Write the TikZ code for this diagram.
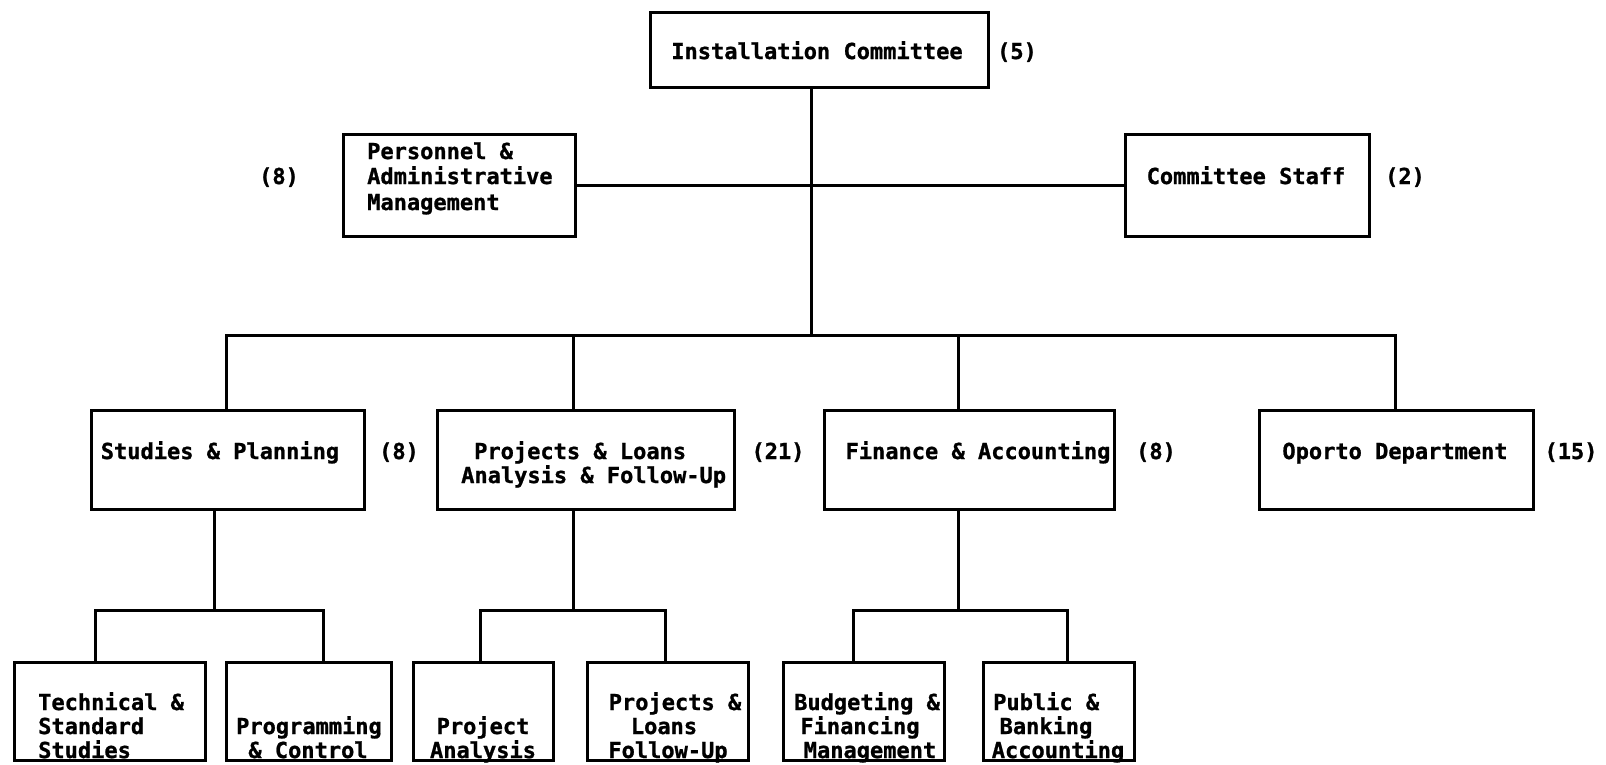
\documentclass[tikz,border=0pt]{standalone}
\usepackage{fontspec}
\newfontfamily\twfont{DejaVu Sans Mono}[BoldFeatures={FakeBold=1}]
\begin{document}
\begin{tikzpicture}[x=1pt,y=-1pt,
  orgbox/.style={draw, line width=3pt, inner sep=0pt},
  lbl/.style={font=\twfont\bfseries\fontsize{22}{26}\selectfont, inner sep=0pt},
  wire/.style={line width=3pt, line cap=rect}]
\useasboundingbox (0,0) rectangle (1606,764);
\fill[white] (0,0) rectangle (1606,764);
% boxes
\node[orgbox, minimum width=338pt, minimum height=75pt] (ic) at (819,49.5) {};
\node[orgbox, minimum width=232pt, minimum height=102pt] (pam) at (459,185) {};
\node[orgbox, minimum width=244pt, minimum height=102pt] (cs) at (1247,185) {};
\node[orgbox, minimum width=273pt, minimum height=99pt] (sp) at (227.5,459.5) {};
\node[orgbox, minimum width=297pt, minimum height=99pt] (pl) at (585.5,459.5) {};
\node[orgbox, minimum width=290pt, minimum height=99pt] (fa) at (969,459.5) {};
\node[orgbox, minimum width=274pt, minimum height=99pt] (op) at (1396,459.5) {};
\node[orgbox, minimum width=191pt, minimum height=98pt] (ts) at (109.5,711) {};
\node[orgbox, minimum width=165pt, minimum height=98pt] (pc) at (308.5,711) {};
\node[orgbox, minimum width=140pt, minimum height=98pt] (pa) at (483,711) {};
\node[orgbox, minimum width=161pt, minimum height=98pt] (pf) at (667.5,711) {};
\node[orgbox, minimum width=161pt, minimum height=98pt] (bf) at (863.5,711) {};
\node[orgbox, minimum width=151pt, minimum height=98pt] (pb) at (1058.5,711) {};
% texts
\node[lbl, anchor=base] (tic) at (817,59) {Installation Committee};
\node[lbl, anchor=base] (nic) at (1017,59) {(5)};
\node[lbl, anchor=base west] (tpam1) at (367,159) {Personnel \&};
\node[lbl, anchor=base west] (tpam2) at (367,184) {Administrative};
\node[lbl, anchor=base west] (tpam3) at (367,210) {Management};
\node[lbl, anchor=base] (npam) at (279,184) {(8)};
\node[lbl, anchor=base] (tcs) at (1246,184) {Committee Staff};
\node[lbl, anchor=base] (ncs) at (1405,184) {(2)};
\node[lbl, anchor=base] (tsp) at (220,459) {Studies \& Planning};
\node[lbl, anchor=base] (nsp) at (399,459) {(8)};
\node[lbl, anchor=base west] (tpl1) at (474,459) {Projects \& Loans};
\node[lbl, anchor=base west] (tpl2) at (461,483) {Analysis \& Follow-Up};
\node[lbl, anchor=base] (npl) at (778,459) {(21)};
\node[lbl, anchor=base] (tfa) at (978,459) {Finance \& Accounting};
\node[lbl, anchor=base] (nfa) at (1156,459) {(8)};
\node[lbl, anchor=base] (top) at (1395,459) {Oporto Department};
\node[lbl, anchor=base] (nop) at (1571,459) {(15)};
\node[lbl, anchor=base west] (tts1) at (38,710) {Technical \&};
\node[lbl, anchor=base west] (tts2) at (38,734) {Standard};
\node[lbl, anchor=base west] (tts3) at (38,758) {Studies};
\node[lbl, anchor=base] (tpc1) at (309,734) {Programming};
\node[lbl, anchor=base] (tpc2) at (308,758) {\& Control};
\node[lbl, anchor=base] (tpa1) at (483,734) {Project};
\node[lbl, anchor=base] (tpa2) at (483,758) {Analysis};
\node[lbl, anchor=base] (tpf1) at (675,710) {Projects \&};
\node[lbl, anchor=base] (tpf2) at (664,734) {Loans};
\node[lbl, anchor=base] (tpf3) at (668,758) {Follow-Up};
\node[lbl, anchor=base] (tbf1) at (867,710) {Budgeting \&};
\node[lbl, anchor=base] (tbf2) at (860,734) {Financing};
\node[lbl, anchor=base] (tbf3) at (870,758) {Management};
\node[lbl, anchor=base west] (tpb1) at (993,710) {Public \&};
\node[lbl, anchor=base] (tpb2) at (1046,734) {Banking};
\node[lbl, anchor=base] (tpb3) at (1058,758) {Accounting};
% connectors
\coordinate (trunk) at (811,335);
\draw[wire] (trunk |- ic.south) -- (trunk);
\draw[wire] (pam.east) -- (cs.west);
\coordinate (d1) at (226,335);
\coordinate (d2) at (573,335);
\coordinate (d3) at (958,335);
\coordinate (d4) at (1395,335);
\draw[wire] (d1) -- (d4);
\draw[wire] (d1) -- (d1 |- sp.north);
\draw[wire] (d2) -- (d2 |- pl.north);
\draw[wire] (d3) -- (d3 |- fa.north);
\draw[wire] (d4) -- (d4 |- op.north);
% studies
\coordinate (s0) at (214,610);
\coordinate (s1) at (95,610);
\coordinate (s2) at (323,610);
\draw[wire] (s0 |- sp.south) -- (s0);
\draw[wire] (s1) -- (s2);
\draw[wire] (s1) -- (s1 |- ts.north);
\draw[wire] (s2) -- (s2 |- pc.north);
% projects
\coordinate (p0) at (573,610);
\coordinate (p1) at (480,610);
\coordinate (p2) at (665,610);
\draw[wire] (p0 |- pl.south) -- (p0);
\draw[wire] (p1) -- (p2);
\draw[wire] (p1) -- (p1 |- pa.north);
\draw[wire] (p2) -- (p2 |- pf.north);
% finance
\coordinate (f0) at (958,610);
\coordinate (f1) at (853,610);
\coordinate (f2) at (1067,610);
\draw[wire] (f0 |- fa.south) -- (f0);
\draw[wire] (f1) -- (f2);
\draw[wire] (f1) -- (f1 |- bf.north);
\draw[wire] (f2) -- (f2 |- pb.north);
\end{tikzpicture}
\end{document}
